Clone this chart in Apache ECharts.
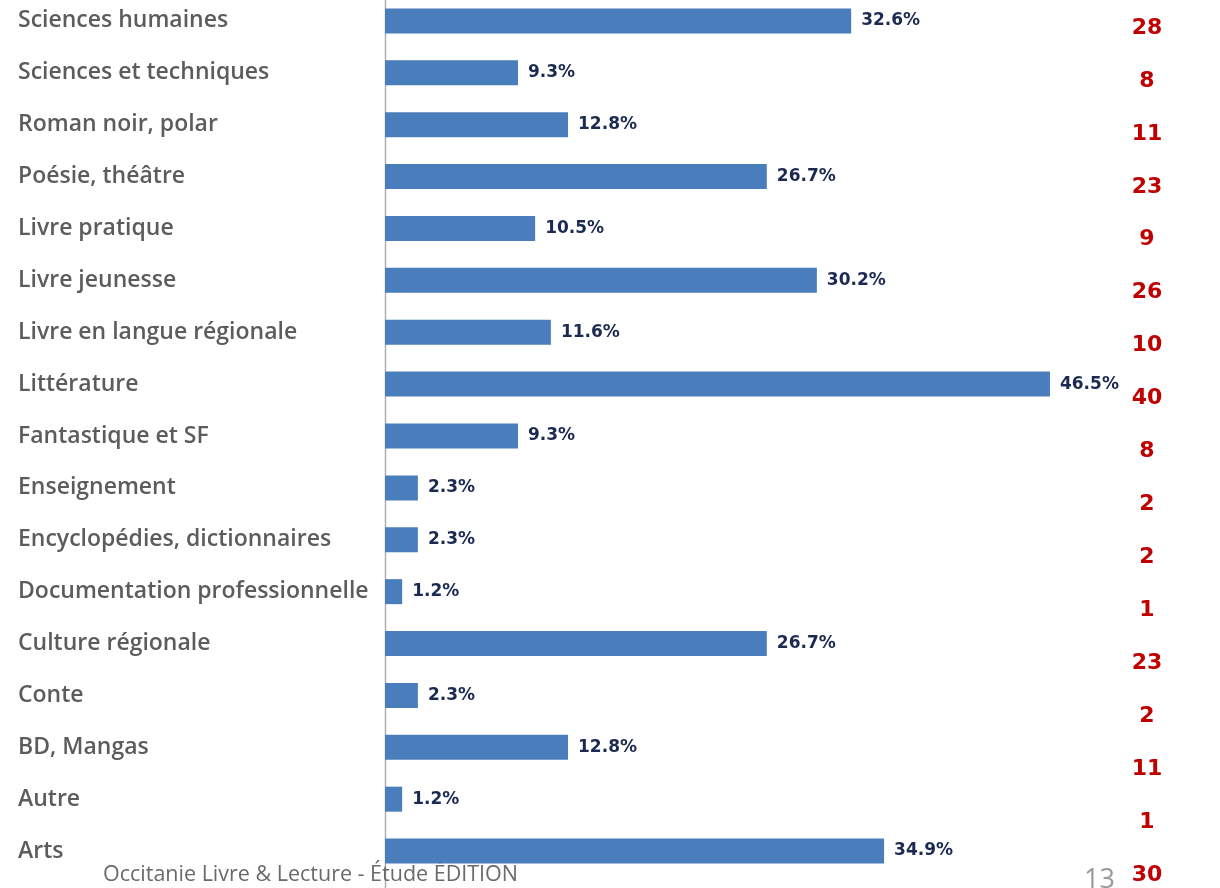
<!DOCTYPE html>
<html><head><meta charset="utf-8">
<script src="https://cdn.jsdelivr.net/npm/echarts@6/dist/echarts.min.js"></script>
<style>html,body{margin:0;padding:0;background:#fff;overflow:hidden}#wrap{position:relative;width:1220px;height:888px;overflow:hidden}#c{position:absolute;left:0;top:-20px;width:1220px;height:928px}</style>
</head><body><div id="wrap"><div id="c"></div></div>
<script>
const categories = ["Sciences humaines","Sciences et techniques","Roman noir, polar","Poésie, théâtre","Livre pratique","Livre jeunesse","Livre en langue régionale","Littérature","Fantastique et SF","Enseignement","Encyclopédies, dictionnaires","Documentation professionnelle","Culture régionale","Conte","BD, Mangas","Autre","Arts"];
const percents = [32.6,9.3,12.8,26.7,10.5,30.2,11.6,46.5,9.3,2.3,2.3,1.2,26.7,2.3,12.8,1.2,34.9];
const counts = [28,8,11,23,9,26,10,40,8,2,2,1,23,2,11,1,30];
const footer = "Occitanie Livre & Lecture - Étude ÉDITION";
const pageNo = "13";

const OFF = 20; // container is shifted up by OFF px
const chart = echarts.init(document.getElementById('c'), null, {renderer:'canvas'});
chart.setOption({
  animation:false,
  backgroundColor:'#fff',
  grid:[
    {left:385, width:715, top:-5+OFF, height:882},
    {left:1147, width:1, top:1.5+OFF, height:900}
  ],
  xAxis:[
    {gridIndex:0, type:'value', min:0, max:50, show:false},
    {gridIndex:1, type:'value', show:false}
  ],
  yAxis:[
    {gridIndex:0, type:'category', inverse:true, data:categories,
     axisLine:{show:false}, axisTick:{show:false},
     axisLabel:{align:'left', margin:367, color:'#5c5c5c', fontFamily:'Open Sans', fontSize:23, fontWeight:600}},
    {gridIndex:1, type:'category', inverse:true, data:counts.map(String),
     axisLine:{show:false}, axisTick:{show:false},
     axisLabel:{align:'center', margin:0, color:'#c00000', fontFamily:'DejaVu Sans', fontSize:22, fontWeight:'bold'}}
  ],
  series:[
    {type:'bar', xAxisIndex:0, yAxisIndex:0, data:percents, barWidth:25,
     itemStyle:{color:'#4a7dbc'},
     label:{show:true, position:'right', distance:10, formatter:p=>p.value.toFixed(1)+'%',
       color:'#1c2a52', fontFamily:'DejaVu Sans', fontSize:17, fontWeight:'bold'}}
  ],
  graphic:[
    {type:'line', shape:{x1:385.5,y1:0,x2:385.5,y2:928}, style:{stroke:'#b0b0b0', lineWidth:1.5}},
    {type:'text', left:103, top:864+OFF, style:{text:footer, font:'21.5px "Open Sans"', fill:'#6a6a6a'}},
    {type:'text', left:1084, top:867+OFF, style:{text:pageNo, font:'27px "Open Sans"', fill:'#9a9a9a'}}
  ]
});
</script></body></html>
